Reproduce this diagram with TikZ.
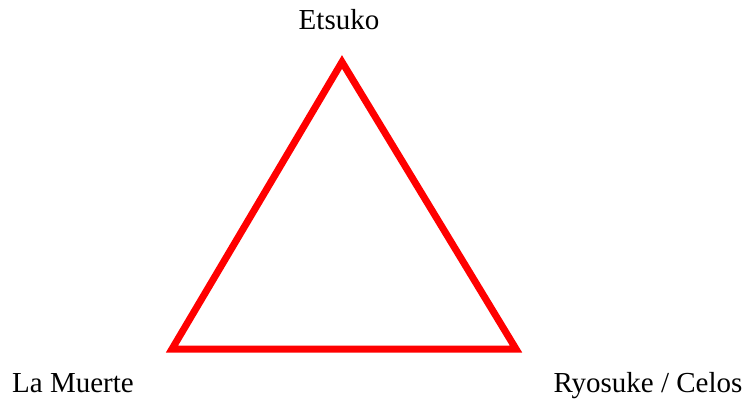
\documentclass[tikz,border=0pt]{standalone}
\usepackage{fontspec}
\setmainfont{Liberation Serif}
\usetikzlibrary{positioning}
\tikzset{
    cornerlabel/.style={
        inner sep=0pt,
        anchor=base,
        font=\fontsize{29}{33}\selectfont
    },
    trianglepath/.style={draw=red, line width=7pt, line join=miter}
}
\begin{document}
\begin{tikzpicture}[x=1pt, y=-1pt]
        \useasboundingbox (0,0) rectangle (747,400);
        \coordinate (top) at (342,62);
        \coordinate (left) at (172,349);
        \coordinate (right) at (516,349);

        \node[cornerlabel] (etsuko) at (339,29) {Etsuko};
        \node[cornerlabel] (muerte) at (73,392) {La Muerte};
        \node[cornerlabel] (ryosuke) at (648,392) {Ryosuke / Celos};

        \draw[trianglepath] (top) -- (right) -- (left) -- cycle;
    \end{tikzpicture}
\end{document}
